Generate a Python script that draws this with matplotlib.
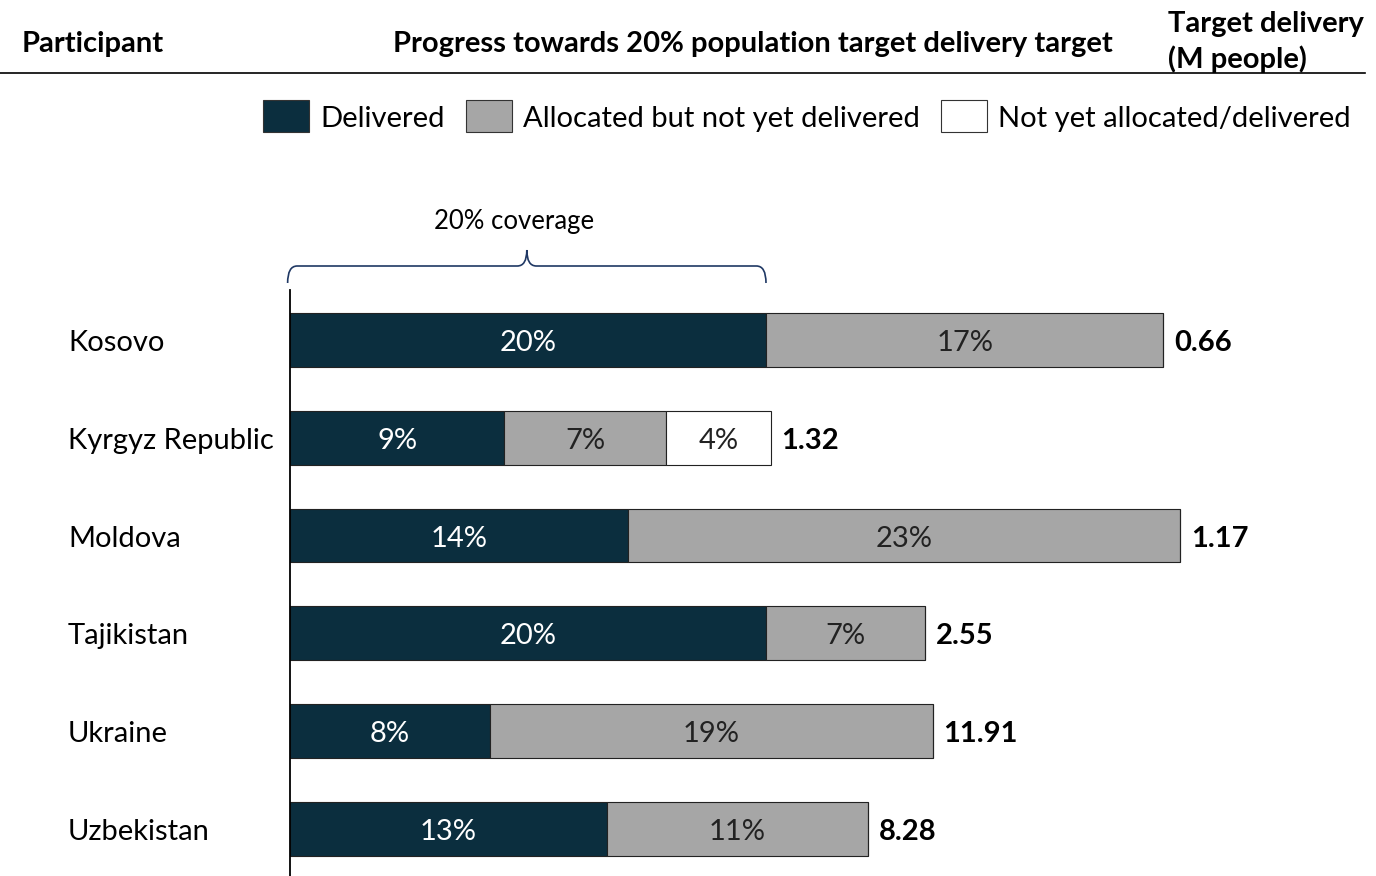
import numpy as np
import matplotlib.pyplot as plt
import matplotlib.transforms as mtransforms
from matplotlib.path import Path
from matplotlib.patches import PathPatch, Rectangle

plt.rcParams['font.family'] = ['Lato', 'DejaVu Sans']

participants = ['Kosovo', 'Kyrgyz Republic', 'Moldova', 'Tajikistan', 'Ukraine', 'Uzbekistan']
delivered = [20.0, 9.0, 14.2, 20.0, 8.4, 13.3]
allocated = [16.7, 6.8, 23.2, 6.7, 18.6, 11.0]
not_allocated = [0.0, 4.4, 0.0, 0.0, 0.0, 0.0]
target_m = ['0.66', '1.32', '1.17', '2.55', '11.91', '8.28']

series_names = ['Delivered', 'Allocated but not yet delivered', 'Not yet allocated/delivered']
colors = ['#0B2E3E', '#A6A6A6', '#FFFFFF']
text_colors = ['white', '#222222', '#222222']

FS = 21

W, H = 1376, 876
fig = plt.figure(figsize=(W / 100, H / 100), dpi=100)

def fx(px):
    return px / W

def fy(py):
    return 1 - py / H

# axes: left edge at x=290px, 1% = 23.8px, from y=290px to bottom
ax = fig.add_axes([fx(290), 0, fx(W - 290), fy(290)])
ax.set_xlim(0, (W - 290) / 23.8)
ax.set_ylim(5.48, -0.51)

# text sits a little lower than matplotlib's bbox centre
tdata = mtransforms.offset_copy(ax.transData, fig=fig, y=-3, units='dots')

y = np.arange(len(participants))
left = np.zeros(len(participants))
for vals, col, tcol in zip([delivered, allocated, not_allocated], colors, text_colors):
    vals = np.array(vals)
    ax.barh(y, vals, left=left, height=0.55, color=col, edgecolor='#222222', linewidth=0.8)
    for yi, l, v in zip(y, left, vals):
        if v > 0:
            ax.text(l + v / 2, yi, f'{v:.0f}%', ha='center', va='center', color=tcol,
                    fontsize=FS, transform=tdata)
    left = left + vals

for yi, tot, lab in zip(y, left, target_m):
    ax.text(tot + 0.45, yi, lab, ha='left', va='center', fontsize=FS, fontweight='bold',
            color='black', transform=tdata)

row_tr = mtransforms.blended_transform_factory(fig.transFigure, tdata)
for yi, name in zip(y, participants):
    fig.text(fx(68), yi, name, fontsize=FS, ha='left', va='center', transform=row_tr)

for s in ['top', 'right', 'bottom']:
    ax.spines[s].set_visible(False)
ax.spines['left'].set_color('black')
ax.spines['left'].set_linewidth(1.3)
ax.set_xticks([])
ax.set_yticks([])

# brace over the 20% coverage
bt = mtransforms.blended_transform_factory(ax.transData, fig.transFigure)
x0, x1 = -0.1, 20.0
xm = (x0 + x1) / 2
yb, yh, yt = fy(283), fy(266), fy(250)
verts = [(x0, yb), (x0, yh), (x0 + 0.4, yh),
         (xm - 0.4, yh), (xm, yh), (xm, yt),
         (xm, yh), (xm + 0.4, yh),
         (x1 - 0.4, yh), (x1, yh), (x1, yb)]
codes = [Path.MOVETO, Path.CURVE3, Path.CURVE3,
         Path.LINETO, Path.CURVE3, Path.CURVE3,
         Path.CURVE3, Path.CURVE3,
         Path.LINETO, Path.CURVE3, Path.CURVE3]
ax.add_patch(PathPatch(Path(verts, codes), transform=bt, facecolor='none',
                       edgecolor='#1F3864', linewidth=1.2, clip_on=False))
fig.text(fx(514), fy(221), '20% coverage', ha='center', va='center', fontsize=18.5)

# header
fig.text(fx(22), fy(44), 'Participant', ha='left', va='center', fontsize=FS, fontweight='bold')
fig.text(fx(1113), fy(44), 'Progress towards 20% population target delivery target',
         ha='right', va='center', fontsize=FS, fontweight='bold')
fig.text(fx(1168), fy(42), 'Target delivery\n(M people)', ha='left', va='center',
         fontsize=FS, fontweight='bold', linespacing=1.35)
fig.add_artist(plt.Line2D([0, fx(1365)], [fy(73), fy(73)], color='black', linewidth=1.2))

# legend
leg_x = [263, 466, 941]
for lx, col, name in zip(leg_x, colors, series_names):
    fig.add_artist(Rectangle((fx(lx), fy(132)), fx(46), 32 / H, facecolor=col,
                             edgecolor='#333333', linewidth=0.8))
    fig.text(fx(lx + 57), fy(119), name, ha='left', va='center', fontsize=FS)

fig.savefig('out.png', dpi=100)
